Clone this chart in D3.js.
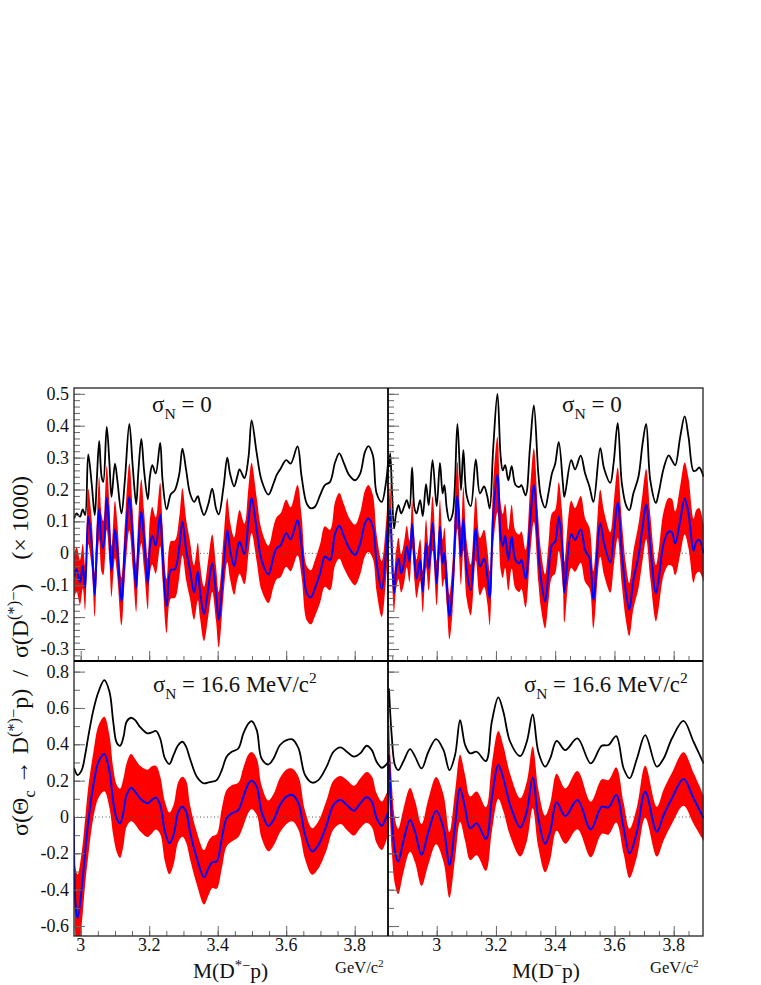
<!DOCTYPE html>
<html><head><meta charset="utf-8">
<script src="https://cdn.jsdelivr.net/npm/d3@7"></script>
<style>html,body{margin:0;padding:0;background:#fff}svg{display:block}text{font-family:"Liberation Serif",serif;fill:#111}</style>
</head><body><svg id="c" width="761" height="985"></svg>
<script>
// Top-left panel: sigma_N = 0, M(D*- p)
const tlMass=[2.981,2.988,2.998,3.006,3.013,3.022,3.032,3.041,3.047,3.054,3.061,3.066,3.076,3.084,3.09,3.1,3.107,3.119,3.129,3.142,3.152,3.162,3.168,3.177,3.185,3.196,3.202,3.209,3.219,3.232,3.239,3.251,3.263,3.275,3.288,3.297,3.308,3.319,3.331,3.342,3.348,3.36,3.373,3.384,3.395,3.403,3.417,3.428,3.436,3.448,3.457,3.464,3.478,3.49,3.499,3.514,3.528,3.548,3.563,3.572,3.584,3.6,3.613,3.633,3.645,3.66,3.672,3.684,3.699,3.713,3.728,3.743,3.755,3.769,3.784,3.801,3.816,3.83,3.84,3.853,3.864,3.879,3.891,3.898];
const tlBlack=[.109,.125,.115,.138,.12,.31,.219,.12,.229,.352,.24,.224,.396,.281,.177,.281,.229,.125,.229,.406,.271,.154,.25,.359,.26,.169,.24,.276,.25,.346,.229,.138,.185,.198,.25,.328,.26,.188,.161,.179,.156,.12,.156,.203,.141,.122,.208,.3,.25,.21,.24,.263,.236,.302,.417,.313,.229,.184,.219,.245,.266,.292,.281,.335,.24,.156,.141,.146,.182,.214,.224,.286,.313,.281,.245,.229,.25,.318,.336,.307,.188,.161,.219,.292];
const tlBlue=[-.073,-.05,-.091,-.04,-.109,.115,.031,-.13,.021,.141,.031,.016,.174,.063,-.057,.075,.01,-.151,.01,.177,.042,-.109,.021,.132,.042,-.096,.021,.055,.024,.122,0,-.165,-.052,-.05,.021,.099,.01,-.052,-.123,-.057,-.115,-.19,-.104,-.031,-.125,-.208,-.042,.073,.01,-.04,.01,.036,-.002,.104,.174,.073,-.021,-.066,-.01,.016,.026,.063,.044,.104,.021,-.125,-.138,-.109,-.063,-.01,-.021,.063,.086,.052,.016,-.005,.031,.094,.109,.083,-.031,-.112,0,.115];
const tlErr=[.07,.07,.07,.07,.07,.087,.075,.07,.08,.1,.09,.085,.1,.09,.08,.09,.085,.075,.085,.105,.09,.075,.085,.1,.09,.08,.085,.09,.088,.1,.085,.085,.09,.09,.095,.105,.095,.09,.085,.09,.085,.085,.09,.09,.085,.087,.09,.1,.09,.09,.095,.1,.095,.105,.11,.1,.095,.09,.095,.097,.1,.105,.1,.11,.095,.085,.085,.088,.092,.095,.095,.1,.103,.1,.095,.095,.097,.103,.105,.1,.09,.087,.09,.1];
// Top-right panel: sigma_N = 0, M(D- p)
const trMass=[2.839,2.843,2.849,2.856,2.863,2.871,2.88,2.89,2.899,2.908,2.917,2.925,2.932,2.944,2.953,2.964,2.973,2.986,3,3.011,3.02,3.026,3.034,3.043,3.054,3.07,3.082,3.09,3.101,3.115,3.132,3.146,3.16,3.171,3.179,3.191,3.205,3.216,3.223,3.231,3.242,3.253,3.266,3.279,3.286,3.3,3.315,3.328,3.343,3.352,3.366,3.377,3.389,3.4,3.412,3.426,3.431,3.454,3.467,3.486,3.501,3.516,3.529,3.552,3.565,3.586,3.597,3.611,3.625,3.639,3.65,3.664,3.681,3.695,3.707,3.721,3.74,3.749,3.766,3.783,3.794,3.805,3.822,3.837,3.85,3.867,3.876,3.886,3.901];
const trBlack=[.271,.313,.198,.078,.125,.151,.125,.146,.167,.141,.269,.141,.125,.167,.117,.217,.151,.292,.148,.283,.188,.214,.141,.102,.125,.406,.198,.323,.182,.148,.294,.188,.21,.177,.141,.333,.5,.302,.26,.276,.229,.273,.214,.208,.214,.182,.333,.464,.25,.177,.143,.188,.25,.281,.349,.219,.177,.292,.263,.306,.25,.208,.161,.33,.266,.221,.281,.408,.219,.151,.135,.188,.24,.344,.406,.229,.158,.188,.266,.307,.292,.276,.365,.429,.365,.258,.26,.269,.24];
const trBlue=[.083,.141,0,-.125,-.052,-.016,-.063,-.029,.021,-.026,.092,-.021,-.08,-.021,-.12,.031,-.047,.094,-.094,.083,-.031,0,-.094,-.2,-.099,.182,-.01,.109,-.052,-.115,.078,-.042,-.016,-.073,-.141,.125,.247,.052,.023,.055,-.021,.052,-.021,-.031,-.021,-.08,.094,.214,.01,-.083,-.151,-.063,.026,.036,.115,-.01,-.122,.06,.042,.075,.01,-.016,-.146,.094,.031,-.029,.052,.159,0,-.125,-.177,-.083,-.01,.083,.154,.021,-.125,-.083,.031,.068,.065,.031,.104,.172,.125,.008,.036,.042,0];
const trErr=[.075,.075,.07,.06,.06,.065,.06,.065,.065,.065,.075,.065,.06,.065,.065,.075,.07,.085,.07,.085,.075,.08,.07,.07,.08,.105,.09,.1,.09,.08,.1,.09,.09,.085,.085,.1,.118,.105,.1,.1,.095,.1,.09,.09,.09,.09,.105,.115,.1,.09,.085,.09,.1,.1,.108,.1,.095,.105,.1,.105,.1,.095,.09,.105,.1,.095,.1,.11,.1,.088,.083,.09,.1,.105,.11,.1,.088,.09,.1,.105,.105,.1,.108,.113,.11,.1,.1,.1,.09];
// Bottom-left panel: sigma_N = 16.6 MeV/c^2, M(D*- p)
const blMass=[2.98,2.9815,2.985,2.991,3.003,3.013,3.022,3.037,3.052,3.069,3.084,3.095,3.105,3.115,3.125,3.134,3.147,3.159,3.173,3.195,3.207,3.22,3.232,3.246,3.259,3.271,3.285,3.297,3.308,3.319,3.339,3.36,3.373,3.384,3.397,3.412,3.426,3.441,3.46,3.475,3.49,3.499,3.514,3.528,3.548,3.563,3.582,3.601,3.618,3.636,3.655,3.676,3.694,3.718,3.738,3.759,3.777,3.798,3.816,3.835,3.85,3.864,3.879,3.891,3.898];
const blBlack=[.27,.265,.247,.231,.258,.341,.441,.588,.689,.753,.689,.524,.41,.392,.441,.524,.546,.533,.496,.46,.465,.473,.432,.322,.291,.341,.396,.414,.386,.322,.222,.185,.19,.194,.203,.258,.332,.359,.377,.46,.515,.527,.478,.322,.289,.322,.396,.423,.427,.377,.231,.189,.203,.277,.359,.383,.359,.332,.35,.392,.368,.304,.271,.286,.304];
const blBlue=[0,-.3,-.484,-.557,-.392,-.19,-.026,.176,.304,.346,.249,.084,-.007,-.035,.029,.121,.161,.139,.103,.075,.093,.106,.066,-.081,-.145,-.099,.029,.057,.029,-.081,-.227,-.332,-.282,-.249,-.245,-.117,-.007,.02,.038,.112,.185,.2,.167,.029,-.049,-.016,.066,.112,.121,.075,-.099,-.19,-.154,-.044,.066,.093,.066,.035,.075,.108,.084,-.007,-.048,-.007,.029];
const blErr=[.02,.13,.2,.24,.2,.18,.19,.18,.2,.205,.2,.185,.185,.19,.185,.175,.185,.18,.18,.185,.185,.175,.16,.165,.17,.165,.165,.165,.17,.15,.145,.15,.15,.143,.15,.165,.155,.155,.15,.16,.16,.157,.155,.145,.14,.142,.15,.15,.145,.147,.133,.128,.13,.137,.135,.132,.137,.137,.137,.14,.14,.137,.133,.13,.12];
// Bottom-right panel: sigma_N = 16.6 MeV/c^2, M(D- p)
const brMass=[2.839,2.848,2.859,2.87,2.887,2.91,2.927,2.949,2.972,2.998,3.023,3.043,3.062,3.079,3.096,3.113,3.135,3.166,3.186,3.208,3.225,3.248,3.282,3.304,3.324,3.343,3.366,3.383,3.405,3.434,3.475,3.52,3.557,3.58,3.606,3.631,3.651,3.676,3.704,3.743,3.766,3.794,3.833,3.867,3.901];
const brBlack=[.707,.451,.286,.258,.304,.374,.332,.267,.359,.429,.368,.258,.341,.533,.396,.35,.359,.308,.524,.658,.579,.414,.335,.414,.564,.359,.277,.322,.419,.368,.432,.295,.392,.396,.445,.267,.212,.322,.451,.277,.322,.432,.529,.414,.295];
const brBlue=[.341,.011,-.19,-.245,-.136,-.016,-.081,-.209,-.081,.035,-.062,-.264,-.044,.158,.048,-.062,-.035,-.121,.103,.286,.212,.066,-.057,.029,.218,-.007,-.148,-.081,.081,.005,.093,-.068,.057,.053,.121,-.062,-.2,-.081,.139,-.081,.011,.103,.209,.103,-.007];
const brErr=[.2,.19,.18,.18,.175,.175,.17,.17,.18,.185,.185,.18,.185,.185,.18,.175,.175,.175,.185,.187,.18,.17,.16,.165,.17,.16,.156,.155,.157,.152,.16,.153,.15,.15,.152,.14,.135,.137,.143,.137,.14,.14,.147,.14,.125];

const xTicksLeft=[3,3.2,3.4,3.6,3.8];
const yTicksTop=[-.3,-.2,-.1,0,.1,.2,.3,.4,.5];
const yTicksBottom=[-.6,-.4,-.2,0,.2,.4,.6,.8];

const svg=d3.select("#c");
const X0=74,X1=388,X2=703,Y0=388,Y1=661,Y2=936;
const xL=d3.scaleLinear().domain([3,3.8]).range([80.7,354.7]);
const xR=d3.scaleLinear().domain([3,3.8]).range([436.7,673.7]);
const yT=d3.scaleLinear().domain([0,.5]).range([553.3,393.8]);
const yB=d3.scaleLinear().domain([0,.8]).range([817,671.6]);
const panels=[
 {id:"a",x:xL,y:yT,l:X0,r:X1,t:Y0,b:Y1,mass:tlMass,black:tlBlack,blue:tlBlue,err:tlErr,minY:.02,ticks:yTicksTop,leftLabels:true,bottomLabels:false},
 {id:"b",x:xR,y:yT,l:X1,r:X2,t:Y0,b:Y1,mass:trMass,black:trBlack,blue:trBlue,err:trErr,minY:.02,ticks:yTicksTop,leftLabels:false,bottomLabels:false},
 {id:"c",x:xL,y:yB,l:X0,r:X1,t:Y1,b:Y2,mass:blMass,black:blBlack,blue:blBlue,err:blErr,minY:.1,ticks:yTicksBottom,leftLabels:true,bottomLabels:true},
 {id:"d",x:xR,y:yB,l:X1,r:X2,t:Y1,b:Y2,mass:brMass,black:brBlack,blue:brBlue,err:brErr,minY:.1,ticks:yTicksBottom,leftLabels:false,bottomLabels:true}
];
const curve=d3.curveCatmullRom.alpha(.5);
const fmt=d=>Math.abs(d)<1e-9?"0":String(+d.toFixed(1));
const defs=svg.append("defs");
panels.forEach(p=>{
 defs.append("clipPath").attr("id","clip"+p.id).append("rect").attr("x",p.l).attr("y",p.t).attr("width",p.r-p.l+1).attr("height",p.b-p.t);
 const g=svg.append("g").attr("clip-path",`url(#clip${p.id})`);
 const idx=d3.range(p.mass.length);
 g.append("path").attr("fill","#ff0000").attr("d",d3.area().curve(curve).x(i=>p.x(p.mass[i])).y0(i=>p.y(p.blue[i]-p.err[i])).y1(i=>p.y(p.blue[i]+p.err[i]))(idx));
 g.append("line").attr("x1",p.l).attr("x2",p.r).attr("y1",p.y(0)).attr("y2",p.y(0)).attr("stroke","#555").attr("stroke-width",1).attr("stroke-dasharray","1 2.5");
 const line=s=>d3.line().curve(curve).x(i=>p.x(p.mass[i])).y(i=>p.y(s[i]))(idx);
 g.append("path").attr("fill","none").attr("stroke","#000").attr("stroke-width",1.8).attr("d",line(p.black));
 g.append("path").attr("fill","none").attr("stroke","#0000ff").attr("stroke-width",2).attr("d",line(p.blue));

 // axes: minor ticks then major ticks
 const [dmin,dmax]=[p.x.invert(p.l),p.x.invert(p.r)];
 const xMinor=d3.range(Math.ceil(dmin/.05),Math.floor(dmax/.05)+1).map(k=>k*.05);
 const ya=p.y.invert(p.b),yb=p.y.invert(p.t);
 const yMinor=d3.range(Math.ceil(ya/p.minY-1e-6),Math.floor(yb/p.minY+1e-6)+1).map(k=>k*p.minY);
 const style=a=>{a.select(".domain").remove();a.selectAll("line").attr("stroke","#666").attr("stroke-width",1);};
 style(svg.append("g").attr("transform",`translate(0,${p.b})`).call(d3.axisTop(p.x).tickValues(xMinor).tickSize(5).tickFormat("")));
 style(svg.append("g").attr("transform",`translate(0,${p.b})`).call(d3.axisTop(p.x).tickValues(xTicksLeft).tickSize(10).tickFormat("")));
 style(svg.append("g").attr("transform",`translate(${p.l},0)`).call(d3.axisRight(p.y).tickValues(yMinor).tickSize(6).tickFormat("")));
 style(svg.append("g").attr("transform",`translate(${p.l},0)`).call(d3.axisRight(p.y).tickValues(p.ticks).tickSize(11).tickFormat("")));
 if(p.leftLabels){
  svg.append("g").selectAll("text").data(p.ticks).join("text").attr("x",69).attr("y",d=>p.y(d)+6).attr("text-anchor","end").attr("font-size",18).text(fmt);
 }
 if(p.bottomLabels){
  svg.append("g").selectAll("text").data(xTicksLeft).join("text").attr("x",d=>p.x(d)).attr("y",951).attr("text-anchor","middle").attr("font-size",18).text(fmt);
 }
});
// frame
svg.append("rect").attr("x",X0).attr("y",Y0).attr("width",X2-X0).attr("height",Y2-Y0).attr("fill","none").attr("stroke","#222").attr("stroke-width",1.3);
svg.append("line").attr("x1",X1).attr("x2",X1).attr("y1",Y0).attr("y2",Y2).attr("stroke","#000").attr("stroke-width",1.8);
svg.append("line").attr("x1",X0).attr("x2",X2).attr("y1",Y1).attr("y2",Y1).attr("stroke","#000").attr("stroke-width",1.8);

function rich(x,y,parts,size,anchor){
 const t=svg.append("text").attr("x",x).attr("y",y).attr("font-size",size).attr("text-anchor",anchor||"start").attr("xml:space","preserve");
 let off=0;
 parts.forEach(([s,k])=>{
  const sz=k?size*.68:size, target=k==="sub"?size*.3:k==="sup"?-size*.38:0;
  t.append("tspan").attr("dy",target-off).attr("font-size",sz).text(s);
  off=target;
 });
 return t;
}
const sN=v=>[["σ"],["N","sub"],[" = "+v]];
rich(152,412,sN("0"),23);
rich(562,412,sN("0"),23);
rich(153,692,[...sN("16.6 MeV/c"),["2","sup"]],22.7);
rich(524,692,[...sN("16.6 MeV/c"),["2","sup"]],22.7);
rich(193,978,[["M(D"],["*−","sup"],["p)"]],21.5);
rich(512,978,[["M(D"],["−","sup"],["p)"]],21.5);
rich(335,973,[["GeV/c"],["2","sup"]],16.5);
rich(650,973,[["GeV/c"],["2","sup"]],16.5);
rich(0,0,[["σ(Θ"],["c","sub"],[" → D"],["(*)−","sup"],["p)  /  σ(D"],["(*)−","sup"],[")    (× 1000)"]],24,"middle")
 .attr("transform","translate(28,656) rotate(-90)");
</script></body></html>
